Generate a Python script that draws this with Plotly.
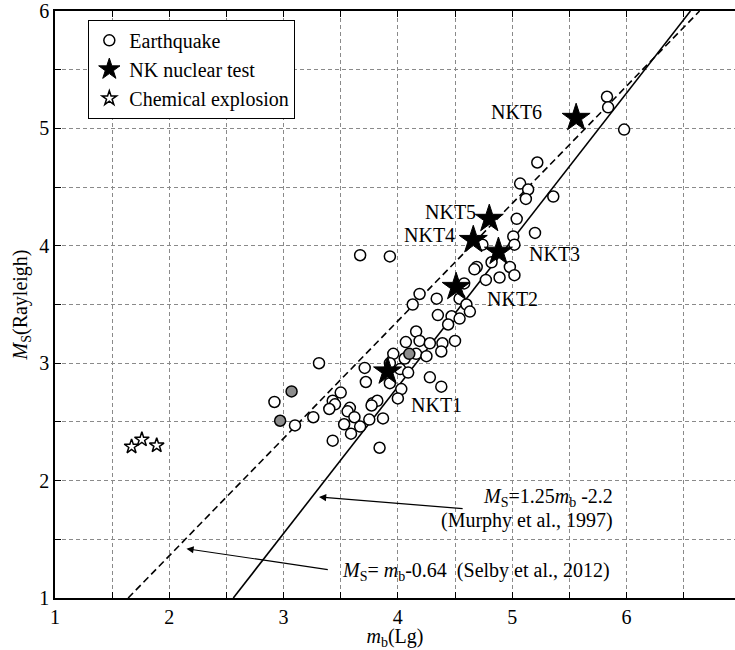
import plotly.graph_objects as go

# Earthquakes (open circles)
eq_mb = [5.83, 5.84, 5.98, 5.22, 5.07, 5.14, 5.12, 5.36, 5.04, 5.20, 5.01, 5.02, 4.74,
         4.82, 4.69, 4.67, 4.98, 5.02, 4.89, 4.77, 4.58, 4.34, 4.19, 4.13, 4.54, 4.60,
         4.63, 4.35, 4.47, 4.54, 4.44, 4.16, 3.67, 3.93,
         4.07, 4.19, 4.28, 4.39, 4.50, 4.16, 4.25, 4.38, 3.96, 4.06, 3.93, 4.02, 4.09,
         4.28, 4.38, 4.03, 4.00, 3.93, 3.71, 3.72, 3.31, 3.50, 3.43, 3.45, 3.40, 3.58,
         3.56, 3.62, 3.53, 3.59, 3.67, 3.75, 3.78, 3.82, 3.77, 3.87, 3.26, 3.10, 3.43,
         3.84, 2.92]
eq_ms = [5.27, 5.18, 4.99, 4.71, 4.53, 4.48, 4.40, 4.42, 4.23, 4.11, 4.08, 4.01, 4.01,
         3.86, 3.82, 3.80, 3.82, 3.75, 3.73, 3.71, 3.68, 3.55, 3.59, 3.50, 3.55, 3.50,
         3.44, 3.41, 3.40, 3.38, 3.33, 3.27, 3.92, 3.91,
         3.18, 3.19, 3.17, 3.17, 3.19, 3.08, 3.06, 3.10, 3.08, 3.04, 3.00, 2.95, 2.92,
         2.88, 2.80, 2.78, 2.70, 2.83, 2.96, 2.84, 3.00, 2.75, 2.68, 2.65, 2.61, 2.62,
         2.59, 2.54, 2.48, 2.40, 2.46, 2.52, 2.66, 2.68, 2.64, 2.53, 2.54, 2.47, 2.34,
         2.28, 2.67]

# Earthquakes (grey filled)
eqg_mb = [4.10, 3.07, 2.97]
eqg_ms = [3.08, 2.76, 2.51]

# NK nuclear tests
nk_names = ["NKT1", "NKT2", "NKT3", "NKT4", "NKT5", "NKT6"]
nk_mb = [3.91, 4.51, 4.88, 4.66, 4.80, 5.56]
nk_ms = [2.93, 3.65, 3.95, 4.05, 4.23, 5.09]

# Chemical explosions
ch_mb = [1.67, 1.76, 1.89]
ch_ms = [2.29, 2.35, 2.30]

# Reference relations Ms = a*mb + b
selby = (1.0, -0.64)
murphy = (1.25, -2.2)

FONT = "Times New Roman, Liberation Serif, serif"
FS = 20

fig = go.Figure()

def line_pts(a, b, y0=1.0, y1=6.0):
    return [(y0 - b) / a, (y1 - b) / a], [y0, y1]

sx, sy = line_pts(*selby)
mx, my = line_pts(*murphy)
fig.add_trace(go.Scatter(x=sx, y=sy, mode="lines", showlegend=False,
                         line=dict(color="black", width=1.6, dash="7px,4px"), hoverinfo="skip"))
fig.add_trace(go.Scatter(x=mx, y=my, mode="lines", showlegend=False,
                         line=dict(color="black", width=1.6), hoverinfo="skip"))

fig.add_trace(go.Scatter(x=eq_mb, y=eq_ms, mode="markers", name="Earthquake",
                         marker=dict(symbol="circle", size=11, color="white",
                                     line=dict(color="black", width=1.5))))
fig.add_trace(go.Scatter(x=eqg_mb, y=eqg_ms, mode="markers", showlegend=False,
                         marker=dict(symbol="circle", size=11, color="#8c8c8c",
                                     line=dict(color="black", width=1.5))))
fig.add_trace(go.Scatter(x=nk_mb, y=nk_ms, mode="markers", name="NK nuclear test",
                         marker=dict(symbol="star", size=21, color="black",
                                     line=dict(color="black", width=1))))
fig.add_trace(go.Scatter(x=ch_mb, y=ch_ms, mode="markers", name="Chemical explosion",
                         marker=dict(symbol="star", size=11, color="white",
                                     line=dict(color="black", width=1.5))))

# NKT labels
lab_pos = {"NKT1": (4.10, 2.64, "left"), "NKT2": (4.76, 3.55, "left"),
           "NKT3": (5.13, 3.93, "left"), "NKT4": (4.52, 4.09, "right"),
           "NKT5": (4.70, 4.29, "right"), "NKT6": (5.28, 5.14, "right")}
for n in nk_names:
    x, y, anc = lab_pos[n]
    fig.add_annotation(x=x, y=y, text=n, showarrow=False, xanchor=anc, yanchor="middle",
                       font=dict(family=FONT, size=FS, color="black"))

# Relation annotations
fig.add_annotation(x=3.31, y=1.86, ax=4.58, ay=1.76, axref="x", ayref="y",
                   text="", showarrow=True, arrowhead=2, arrowsize=1.2, arrowwidth=1.2,
                   arrowcolor="black")
fig.add_annotation(x=5.90, y=1.86, text="<i>M</i><sub>S</sub>=1.25<i>m</i><sub>b</sub> -2.2",
                   showarrow=False, xanchor="right", yanchor="middle",
                   font=dict(family=FONT, size=FS, color="black"))
fig.add_annotation(x=5.90, y=1.66, text="(Murphy et al., 1997)",
                   showarrow=False, xanchor="right", yanchor="middle",
                   font=dict(family=FONT, size=FS, color="black"))
fig.add_annotation(x=2.15, y=1.42, ax=3.40, ay=1.24, axref="x", ayref="y",
                   text="", showarrow=True, arrowhead=2, arrowsize=1.2, arrowwidth=1.2,
                   arrowcolor="black")
fig.add_annotation(x=3.49, y=1.23,
                   text="<i>M</i><sub>S</sub>= <i>m</i><sub>b</sub>-0.64  (Selby et al., 2012)",
                   showarrow=False, xanchor="left", yanchor="middle",
                   font=dict(family=FONT, size=FS, color="black"))

xt = [1 + 0.5 * i for i in range(13)]
yt = [1 + 0.5 * i for i in range(11)]
xlab = [str(int(v)) if v == int(v) else "" for v in xt]
ylab = [str(int(v)) if v == int(v) else "" for v in yt]

fig.update_layout(
    width=735, height=650,
    margin=dict(l=55, r=0, t=8, b=52),
    paper_bgcolor="white", plot_bgcolor="white",
    font=dict(family=FONT, size=FS, color="black"),
    showlegend=True,
    legend=dict(x=0.049, y=0.985, xanchor="left", yanchor="top",
                bordercolor="black", borderwidth=1, bgcolor="white",
                font=dict(family=FONT, size=FS), itemsizing="trace",
                tracegroupgap=0),
    xaxis=dict(range=[1, 6.95], tickvals=xt, ticktext=xlab, ticks="inside", ticklen=6,
               tickcolor="black", showline=True, linecolor="black", linewidth=1.5,
               mirror="ticks", showgrid=True, gridcolor="#8a8a8a", griddash="4px,3px",
               gridwidth=1, zeroline=False, tickfont=dict(family=FONT, size=FS),
               ticklabeloverflow="allow",
               title=dict(text="<i>m</i><sub>b</sub>(Lg)", font=dict(family=FONT, size=FS), standoff=5)),
    yaxis=dict(range=[1, 6.0005], tickvals=yt, ticktext=ylab, ticks="inside", ticklen=6,
               tickcolor="black", showline=True, linecolor="black", linewidth=1.5,
               mirror=False, showgrid=True, gridcolor="#8a8a8a", griddash="4px,3px",
               gridwidth=1, zeroline=False, tickfont=dict(family=FONT, size=FS),
               ticklabeloverflow="allow",
               title=dict(text="<i>M</i><sub>S</sub>(Rayleigh)", font=dict(family=FONT, size=FS), standoff=6)),
)

fig.write_html("out.html")
